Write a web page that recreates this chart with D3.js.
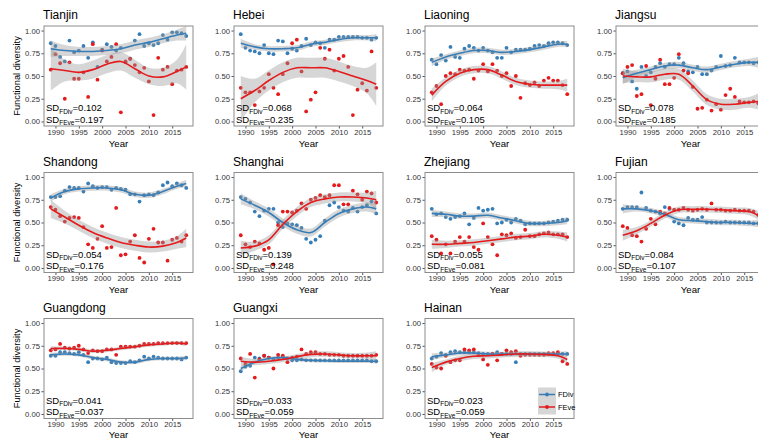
<!DOCTYPE html>
<html>
<head>
<meta charset="utf-8">
<script src="https://cdn.jsdelivr.net/npm/d3@7"></script>
<style>
  body { margin: 0; background: #fff; }
  svg { font-family: "Liberation Sans", Arial, Helvetica, sans-serif; }
</style>
</head>
<body>
<svg id="chart" width="758" height="439"></svg>
<script>
// ---- data -------------------------------------------------------------
const provinces = ["Tianjin", "Hebei", "Liaoning", "Jiangsu", "Shandong", "Shanghai",
                   "Zhejiang", "Fujian", "Guangdong", "Guangxi", "Hainan"];

const years = [1989, 1990, 1991, 1992, 1993, 1994, 1995, 1996, 1997, 1998,
               1999, 2000, 2001, 2002, 2003, 2004, 2005, 2006, 2007, 2008,
               2009, 2010, 2011, 2012, 2013, 2014, 2015, 2016, 2017, 2018];

// yearly functional divergence (FDiv), one row per province
const fdivValues = [
  [0.86,0.83,0.71,0.66,0.89,0.76,0.78,0.83,0.70,0.87,0.60,0.79,0.85,0.82,0.78,0.81,0.65,0.69,0.89,0.96,0.83,0.86,0.84,0.86,0.95,0.90,0.98,0.98,0.97,0.94],
  [0.96,0.81,0.78,0.77,0.75,0.84,0.75,0.74,0.89,0.88,0.75,0.80,0.78,0.83,0.91,0.84,0.87,0.86,0.81,0.90,0.90,0.93,0.93,0.93,0.93,0.93,0.92,0.92,0.90,0.92],
  [0.68,0.63,0.73,0.67,0.82,0.71,0.70,0.80,0.83,0.81,0.78,0.81,0.78,0.76,0.70,0.70,0.81,0.76,0.79,0.79,0.79,0.80,0.83,0.84,0.83,0.86,0.87,0.87,0.86,0.84],
  [0.53,0.55,0.44,0.36,0.60,0.50,0.54,0.60,0.64,0.60,0.63,0.63,0.70,0.64,0.55,0.54,0.60,0.52,0.52,0.56,0.60,0.72,0.61,0.62,0.70,0.65,0.65,0.65,0.64,0.65],
  [0.78,0.78,0.79,0.85,0.89,0.88,0.88,0.84,0.93,0.90,0.88,0.89,0.89,0.86,0.88,0.87,0.86,0.81,0.81,0.73,0.80,0.81,0.80,0.83,0.91,0.94,0.90,0.93,0.91,0.88],
  [0.78,0.76,0.72,0.62,0.57,0.63,0.65,0.65,0.50,0.45,0.49,0.48,0.47,0.44,0.32,0.28,0.31,0.35,0.52,0.69,0.72,0.67,0.63,0.62,0.66,0.62,0.67,0.69,0.73,0.60],
  [0.65,0.59,0.60,0.56,0.54,0.56,0.57,0.60,0.48,0.55,0.66,0.63,0.64,0.65,0.49,0.50,0.53,0.50,0.54,0.52,0.48,0.49,0.49,0.49,0.49,0.50,0.51,0.52,0.53,0.53],
  [0.65,0.67,0.67,0.67,0.83,0.66,0.63,0.62,0.60,0.67,0.65,0.51,0.49,0.47,0.55,0.53,0.53,0.56,0.50,0.50,0.50,0.50,0.51,0.50,0.50,0.50,0.50,0.50,0.49,0.49],
  [0.64,0.64,0.68,0.68,0.67,0.66,0.68,0.65,0.57,0.61,0.61,0.60,0.62,0.57,0.56,0.56,0.56,0.58,0.57,0.59,0.63,0.61,0.63,0.62,0.61,0.61,0.61,0.61,0.60,0.62],
  [0.47,0.52,0.53,0.62,0.61,0.64,0.62,0.60,0.62,0.63,0.61,0.59,0.59,0.60,0.59,0.59,0.59,0.59,0.59,0.59,0.59,0.59,0.59,0.59,0.59,0.59,0.59,0.59,0.58,0.58],
  [0.61,0.63,0.67,0.65,0.68,0.69,0.68,0.68,0.68,0.68,0.67,0.66,0.66,0.66,0.68,0.66,0.66,0.66,0.57,0.66,0.66,0.66,0.66,0.66,0.66,0.66,0.66,0.66,0.66,0.66]
];

// yearly functional evenness (FEve), one row per province
const feveValues = [
  [0.57,0.74,0.64,0.25,0.65,0.47,0.47,0.54,0.27,0.85,0.46,0.78,0.66,0.71,0.85,0.10,0.66,0.69,0.62,0.54,0.59,0.44,0.07,0.70,0.57,0.60,0.41,0.56,0.57,0.60],
  [0.37,0.32,0.32,0.18,0.33,0.37,0.52,0.37,0.30,0.52,0.64,0.86,0.90,0.55,0.11,0.24,0.32,0.81,0.69,0.79,0.56,0.69,0.72,0.60,0.07,0.35,0.42,0.34,0.77,0.37],
  [0.32,0.39,0.19,0.50,0.53,0.52,0.57,0.56,0.57,0.47,0.56,0.63,0.55,0.63,0.56,0.50,0.53,0.39,0.50,0.26,0.42,0.40,0.43,0.39,0.45,0.48,0.45,0.45,0.40,0.30],
  [0.53,0.60,0.62,0.28,0.30,0.61,0.18,0.47,0.68,0.41,0.41,0.48,0.74,0.56,0.53,0.38,0.14,0.15,0.24,0.12,0.19,0.13,0.29,0.36,0.27,0.22,0.21,0.21,0.22,0.20],
  [0.67,0.64,0.57,0.51,0.55,0.56,0.55,0.45,0.26,0.22,0.32,0.46,0.22,0.23,0.66,0.14,0.15,0.29,0.36,0.11,0.06,0.32,0.43,0.28,0.28,0.08,0.31,0.33,0.29,0.36],
  [0.36,0.26,0.23,0.29,0.27,0.20,0.22,0.04,0.47,0.62,0.62,0.61,0.63,0.71,0.65,0.75,0.77,0.80,0.78,0.80,0.91,0.91,0.70,0.70,0.85,0.81,0.75,0.84,0.82,0.72],
  [0.35,0.31,0.16,0.26,0.16,0.29,0.34,0.29,0.34,0.23,0.20,0.49,0.34,0.26,0.14,0.37,0.36,0.38,0.33,0.34,0.42,0.35,0.35,0.37,0.38,0.39,0.37,0.37,0.37,0.34],
  [0.46,0.44,0.36,0.35,0.29,0.43,0.54,0.48,0.62,0.60,0.66,0.64,0.64,0.66,0.64,0.63,0.64,0.65,0.64,0.71,0.64,0.64,0.63,0.63,0.64,0.63,0.63,0.63,0.62,0.58],
  [0.70,0.71,0.77,0.73,0.72,0.73,0.75,0.71,0.67,0.70,0.69,0.69,0.71,0.71,0.65,0.74,0.74,0.74,0.74,0.75,0.77,0.77,0.77,0.78,0.78,0.78,0.78,0.78,0.78,0.78],
  [0.61,0.55,0.66,0.40,0.60,0.64,0.62,0.50,0.65,0.64,0.57,0.62,0.63,0.71,0.66,0.68,0.68,0.66,0.66,0.65,0.65,0.65,0.64,0.64,0.64,0.64,0.64,0.64,0.64,0.65],
  [0.55,0.51,0.50,0.64,0.57,0.59,0.59,0.71,0.70,0.71,0.65,0.60,0.54,0.66,0.59,0.66,0.70,0.68,0.69,0.64,0.65,0.65,0.65,0.65,0.65,0.67,0.67,0.68,0.58,0.55]
];

// smoothed trend (loess fit) sampled at these years
const fitYears = [1989, 1992, 1995, 1998, 2001, 2004, 2007, 2010, 2013, 2016, 2018];

const fdivFit = [
  [0.80,0.78,0.77,0.77,0.78,0.80,0.84,0.87,0.91,0.95,0.97],
  [0.86,0.82,0.80,0.80,0.81,0.85,0.87,0.90,0.92,0.92,0.92],
  [0.65,0.71,0.75,0.78,0.78,0.76,0.77,0.79,0.82,0.85,0.85],
  [0.48,0.53,0.57,0.61,0.62,0.59,0.57,0.60,0.63,0.65,0.65],
  [0.77,0.84,0.87,0.88,0.88,0.86,0.81,0.80,0.84,0.90,0.93],
  [0.76,0.69,0.61,0.50,0.42,0.39,0.50,0.60,0.65,0.67,0.65],
  [0.60,0.59,0.57,0.57,0.58,0.55,0.52,0.49,0.49,0.50,0.52],
  [0.65,0.65,0.63,0.59,0.53,0.52,0.51,0.50,0.50,0.49,0.49],
  [0.65,0.66,0.65,0.62,0.60,0.57,0.57,0.60,0.61,0.61,0.615],
  [0.50,0.57,0.61,0.62,0.60,0.59,0.585,0.58,0.58,0.58,0.58],
  [0.63,0.65,0.67,0.67,0.66,0.66,0.66,0.66,0.66,0.66,0.66]
];
const feveFit = [
  [0.58,0.56,0.54,0.57,0.63,0.66,0.58,0.50,0.49,0.55,0.60],
  [0.25,0.34,0.45,0.54,0.59,0.59,0.59,0.55,0.50,0.45,0.41],
  [0.29,0.44,0.53,0.57,0.57,0.51,0.44,0.41,0.40,0.40,0.40],
  [0.50,0.49,0.49,0.52,0.52,0.39,0.24,0.19,0.19,0.21,0.22],
  [0.65,0.56,0.47,0.39,0.33,0.28,0.25,0.23,0.24,0.28,0.33],
  [0.22,0.24,0.31,0.48,0.62,0.72,0.76,0.78,0.78,0.77,0.75],
  [0.26,0.26,0.27,0.28,0.30,0.32,0.34,0.35,0.37,0.36,0.34],
  [0.36,0.41,0.49,0.58,0.64,0.645,0.645,0.64,0.63,0.62,0.58],
  [0.72,0.72,0.71,0.69,0.70,0.72,0.74,0.76,0.77,0.78,0.77],
  [0.58,0.57,0.58,0.60,0.63,0.655,0.66,0.65,0.64,0.64,0.64],
  [0.51,0.57,0.61,0.635,0.64,0.65,0.66,0.66,0.655,0.64,0.60]
];

// half-width of the 95% confidence band around each fit
const fdivBand = [
  [0.09,0.06,0.05,0.05,0.05,0.05,0.05,0.05,0.05,0.06,0.08],
  [0.05,0.03,0.03,0.03,0.03,0.03,0.03,0.03,0.03,0.03,0.04],
  [0.04,0.03,0.03,0.03,0.03,0.03,0.03,0.03,0.03,0.03,0.035],
  [0.07,0.04,0.035,0.035,0.035,0.035,0.035,0.035,0.035,0.04,0.06],
  [0.04,0.03,0.03,0.03,0.03,0.03,0.03,0.03,0.03,0.03,0.04],
  [0.06,0.045,0.045,0.045,0.045,0.045,0.045,0.045,0.045,0.05,0.06],
  [0.04,0.03,0.03,0.03,0.03,0.03,0.03,0.03,0.03,0.03,0.04],
  [0.05,0.03,0.03,0.03,0.03,0.03,0.03,0.03,0.03,0.03,0.04],
  [0.025,0.02,0.02,0.02,0.02,0.02,0.02,0.02,0.02,0.02,0.025],
  [0.03,0.02,0.02,0.02,0.02,0.02,0.02,0.02,0.02,0.02,0.025],
  [0.035,0.025,0.025,0.025,0.025,0.025,0.025,0.025,0.025,0.025,0.03]
];
const feveBand = [
  [0.24,0.12,0.09,0.10,0.10,0.10,0.10,0.09,0.10,0.13,0.25],
  [0.25,0.13,0.11,0.11,0.11,0.11,0.11,0.11,0.11,0.14,0.24],
  [0.07,0.045,0.04,0.04,0.04,0.04,0.04,0.04,0.04,0.045,0.07],
  [0.08,0.06,0.06,0.06,0.06,0.06,0.06,0.06,0.06,0.06,0.09],
  [0.10,0.07,0.06,0.06,0.06,0.06,0.06,0.06,0.06,0.07,0.10],
  [0.08,0.05,0.05,0.05,0.05,0.05,0.05,0.05,0.05,0.06,0.10],
  [0.05,0.04,0.035,0.035,0.035,0.035,0.035,0.035,0.035,0.04,0.05],
  [0.06,0.04,0.035,0.035,0.035,0.035,0.035,0.035,0.035,0.04,0.05],
  [0.025,0.02,0.02,0.02,0.02,0.02,0.02,0.02,0.02,0.02,0.025],
  [0.05,0.035,0.03,0.03,0.03,0.03,0.03,0.03,0.03,0.035,0.05],
  [0.05,0.03,0.03,0.03,0.03,0.03,0.03,0.03,0.03,0.03,0.045]
];

// standard deviations printed in each panel
const sdFDiv = ["0.102", "0.068", "0.064", "0.078", "0.054", "0.139", "0.055", "0.084", "0.041", "0.033", "0.023"];
const sdFEve = ["0.197", "0.235", "0.105", "0.185", "0.176", "0.248", "0.081", "0.107", "0.037", "0.059", "0.059"];

const yTicks = [0, 0.25, 0.5, 0.75, 1];
const xTicks = [1990, 1995, 2000, 2005, 2010, 2015];

// ---- layout -----------------------------------------------------------
const colLeft = [44, 234, 425, 616];
const rowTop = [26, 172.5, 318.5];
const yearTitleOffset = [20.5, 20.5, 19.5];
const W = 149, H = 100;
const blue = "#377EB8", red = "#E41A1C";

const svg = d3.select("#chart");

const x = d3.scaleLinear().domain([1987.55, 2019.45]).range([0, W]);
const y = d3.scaleLinear().domain([-0.05, 1.05]).range([H, 0]);

svg.append("defs").append("clipPath").attr("id", "plotClip")
  .append("rect").attr("width", W).attr("height", H);

const curve = d3.curveCatmullRom.alpha(0.5);
const fitLine = d3.line().x(d => x(d.year)).y(d => y(d.fit)).curve(curve);
const bandArea = d3.area().x(d => x(d.year))
  .y0(d => y(d.fit - d.se)).y1(d => y(d.fit + d.se)).curve(curve);

provinces.forEach((name, i) => {
  const col = i % 4, row = Math.floor(i / 4);
  const g = svg.append("g").attr("transform", `translate(${colLeft[col]},${rowTop[row]})`);

  // title
  g.append("text").attr("x", -1).attr("y", -7)
    .attr("font-size", 12).attr("fill", "#000").text(name);

  // axes
  const yAxis = g.append("g").call(d3.axisLeft(y).tickValues(yTicks)
      .tickFormat(d3.format(".2f")).tickSize(2.5).tickPadding(1.5));
  const xAxis = g.append("g").attr("transform", `translate(0,${H})`)
    .call(d3.axisBottom(x).tickValues(xTicks).tickFormat(d3.format("d"))
      .tickSize(2.5).tickPadding(1));
  [yAxis, xAxis].forEach(a => {
    a.select(".domain").remove();
    a.selectAll(".tick line").attr("stroke", "#555");
    a.selectAll(".tick text").attr("fill", "#333").attr("font-size", 7.7)
      .attr("font-family", "\"Liberation Sans\", Arial, sans-serif");
  });

  // x-axis title
  g.append("text").attr("x", W / 2).attr("y", H + yearTitleOffset[row])
    .attr("text-anchor", "middle")
    .attr("font-size", 9.6).attr("fill", "#000").text("Year");

  const plot = g.append("g").attr("clip-path", "url(#plotClip)");

  const series = [
    { vals: fdivValues[i], fit: fdivFit[i], se: fdivBand[i], color: blue },
    { vals: feveValues[i], fit: feveFit[i], se: feveBand[i], color: red }
  ];

  // observed values
  series.forEach(s => {
    plot.append("g").selectAll("circle")
      .data(years.map((yr, k) => ({ year: yr, v: s.vals[k] })))
      .join("circle")
      .attr("cx", d => x(d.year)).attr("cy", d => y(d.v)).attr("r", 1.9)
      .attr("fill", s.color);
  });

  // confidence bands over the points
  series.forEach(s => {
    const pts = fitYears.map((yr, k) => ({ year: yr, fit: s.fit[k], se: s.se[k] }));
    plot.append("path").datum(pts).attr("d", bandArea)
      .attr("fill", "#999999").attr("fill-opacity", 0.4);
  });

  // smoothed trends
  series.forEach(s => {
    const pts = fitYears.map((yr, k) => ({ year: yr, fit: s.fit[k] }));
    plot.append("path").datum(pts).attr("d", fitLine)
      .attr("fill", "none").attr("stroke", s.color).attr("stroke-width", 1.6);
  });

  // panel border
  g.append("rect").attr("width", W).attr("height", H)
    .attr("fill", "none").attr("stroke", "#8c8c8c").attr("stroke-width", 1);

  // standard deviation labels
  const sdLabel = (yPos, sub, val) => {
    const t = g.append("text").attr("x", 2).attr("y", yPos)
      .attr("font-size", 9.5).attr("fill", "#000");
    t.append("tspan").text("SD");
    t.append("tspan").attr("font-size", 6.5).attr("dy", 2.5).text(sub);
    t.append("tspan").attr("dy", -2.5).text("=" + val);
  };
  sdLabel(H - 15, "FDiv", sdFDiv[i]);
  sdLabel(H - 3.5, "FEve", sdFEve[i]);

  // y-axis title on the first column
  if (col === 0) {
    g.append("text")
      .attr("transform", `translate(-24,${H / 2}) rotate(-90)`)
      .attr("text-anchor", "middle").attr("font-size", 9.3).attr("fill", "#000")
      .text("Functional diversity");
  }

  // legend inside the last panel
  if (i === provinces.length - 1) {
    const lg = g.append("g").attr("transform", `translate(${W - 36},${H - 31})`);
    lg.append("rect").attr("width", 18).attr("height", 27).attr("fill", "#d6d6d6");
    [{ label: "FDiv", color: blue }, { label: "FEve", color: red }].forEach((e, k) => {
      const cy = 7 + k * 12.5;
      lg.append("line").attr("x1", 1).attr("x2", 17).attr("y1", cy).attr("y2", cy)
        .attr("stroke", e.color).attr("stroke-width", 1.5);
      lg.append("circle").attr("cx", 9).attr("cy", cy).attr("r", 1.9).attr("fill", e.color);
      lg.append("text").attr("x", 20).attr("y", cy + 2.7).attr("font-size", 7.5)
        .attr("fill", "#000").text(e.label);
    });
  }
});
</script>
</body>
</html>
